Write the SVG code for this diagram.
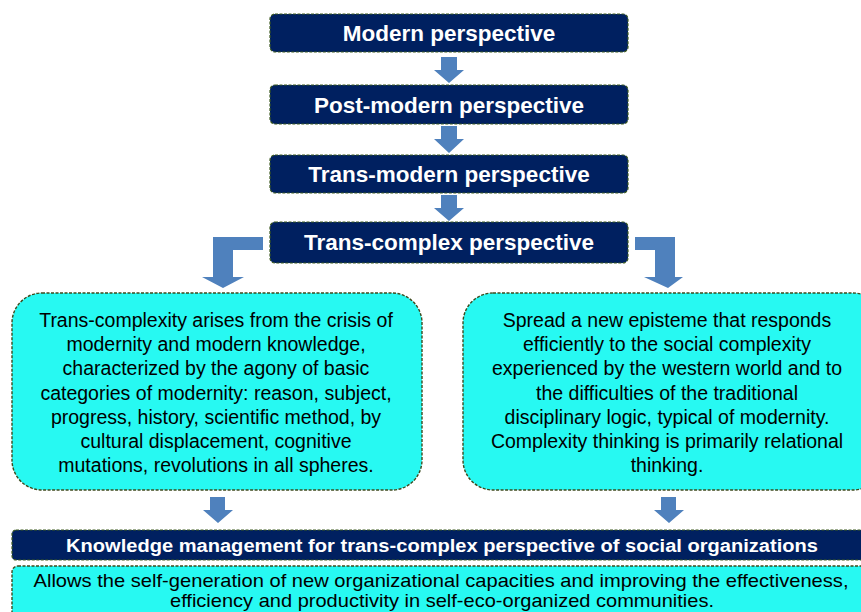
<svg xmlns="http://www.w3.org/2000/svg" width="861" height="612" viewBox="0 0 861 612">
<style>
.dark{fill:#002060;stroke:#3d5a1e;stroke-width:1.2;stroke-dasharray:3 1.5}
.cyan{fill:#27f9f2;stroke:#3d4a1e;stroke-width:1.4;stroke-dasharray:3 1.5}
.ttl{font-family:"Liberation Sans",Arial,sans-serif;font-weight:bold;font-size:22.5px;fill:#fff;text-anchor:middle}
.km{font-family:"Liberation Sans",Arial,sans-serif;font-weight:bold;font-size:18px;fill:#fff;text-anchor:middle}
.body{font-family:"Liberation Sans",Arial,sans-serif;font-size:19.5px;fill:#000;text-anchor:middle}
.bot{font-family:"Liberation Sans",Arial,sans-serif;font-size:19px;fill:#000;text-anchor:middle}
.arr{fill:#4f81bd}
</style>
<rect width="861" height="612" fill="#fff"/>
<g id="connectors">
<polygon class="arr" points="441,57 457,57 457,70 464,70 449,83 434,70 441,70"/>
<polygon class="arr" points="441,126 457,126 457,139 464,139 449,153 434,139 441,139"/>
<polygon class="arr" points="441,195 457,195 457,208 464,208 449,221 434,208 441,208"/>
<polygon class="arr" points="263,237 263,250 233,250 233,277 244,277 223,288 202,277 213,277 213,237"/>
<polygon class="arr" points="635,237 635,250 655,250 655,277 644,277 668,288 683,277 675,277 675,237"/>
<polygon class="arr" points="210,497 225,497 225,510 233,510 218,523 203,510 210,510"/>
<polygon class="arr" points="661,497 676,497 676,510 684,510 669,523 654,510 661,510"/>
</g>
<g id="modern">
<rect class="dark" x="270" y="14" width="358" height="38" rx="5"/>
<text class="ttl" x="449" y="41">Modern perspective</text>
</g>
<g id="postmodern">
<rect class="dark" x="270" y="85" width="358" height="39" rx="5"/>
<text class="ttl" x="449" y="113">Post-modern perspective</text>
</g>
<g id="transmodern">
<rect class="dark" x="270" y="155" width="358" height="38" rx="5"/>
<text class="ttl" x="449" y="182">Trans-modern perspective</text>
</g>
<g id="transcomplex">
<rect class="dark" x="270" y="222" width="358" height="41" rx="5"/>
<text class="ttl" x="449" y="250">Trans-complex perspective</text>
</g>
<g id="left-box">
<rect class="cyan" x="12" y="293" width="410" height="197" rx="30"/>
<text class="body" x="216" y="327">Trans-complexity arises from the crisis of</text>
<text class="body" x="216" y="351">modernity and modern knowledge,</text>
<text class="body" x="216" y="375">characterized by the agony of basic</text>
<text class="body" x="216" y="400">categories of modernity: reason, subject,</text>
<text class="body" x="216" y="424">progress, history, scientific method, by</text>
<text class="body" x="216" y="448">cultural displacement, cognitive</text>
<text class="body" x="216" y="472">mutations, revolutions in all spheres.</text>
</g>
<g id="right-box">
<rect class="cyan" x="463" y="293" width="420" height="197" rx="30"/>
<text class="body" x="667" y="327">Spread a new episteme that responds</text>
<text class="body" x="667" y="351">efficiently to the social complexity</text>
<text class="body" x="667" y="375">experienced by the western world and to</text>
<text class="body" x="667" y="400">the difficulties of the traditional</text>
<text class="body" x="667" y="424">disciplinary logic, typical of modernity.</text>
<text class="body" x="667" y="448">Complexity thinking is primarily relational</text>
<text class="body" x="667" y="472">thinking.</text>
</g>
<g id="km-bar">
<rect class="dark" x="12" y="530" width="880" height="30" rx="4"/>
<text class="km" x="442" y="552" textLength="752" lengthAdjust="spacingAndGlyphs">Knowledge management for trans-complex perspective of social organizations</text>
</g>
<g id="bottom-box">
<rect class="cyan" x="12" y="566" width="880" height="60" rx="6"/>
<text class="bot" x="441" y="587" textLength="815" lengthAdjust="spacingAndGlyphs">Allows the self-generation of new organizational capacities and improving the effectiveness,</text>
<text class="bot" x="442" y="607" textLength="544" lengthAdjust="spacingAndGlyphs">efficiency and productivity in self-eco-organized communities.</text>
</g>
</svg>
